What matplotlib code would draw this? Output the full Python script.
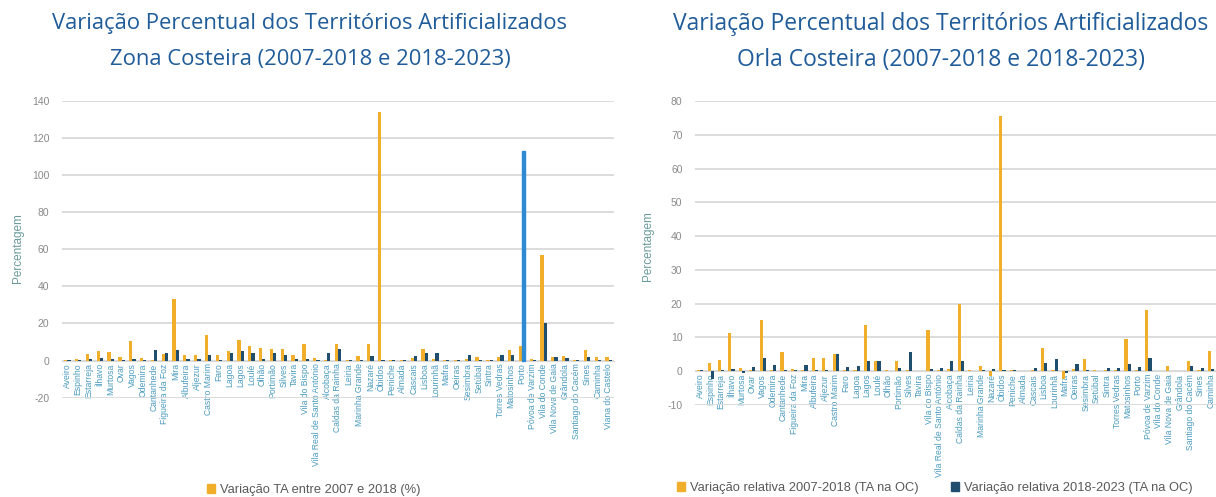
import matplotlib.pyplot as plt
import numpy as np
from matplotlib.patches import Patch

# Zona Costeira (51 municípios)
zona_municipios = [
    "Aveiro", "Espinho", "Estarreja", "Ílhavo", "Murtosa", "Ovar", "Vagos", "Odemira",
    "Cantanhede", "Figueira da Foz", "Mira", "Albufeira", "Aljezur", "Castro Marim",
    "Faro", "Lagoa", "Lagos", "Loulé", "Olhão", "Portimão", "Silves", "Tavira",
    "Vila do Bispo", "Vila Real de Santo António", "Alcobaça", "Caldas da Rainha",
    "Leiria", "Marinha Grande", "Nazaré", "Óbidos", "Peniche", "Almada", "Cascais",
    "Lisboa", "Lourinhã", "Mafra", "Oeiras", "Sesimbra", "Setúbal", "Sintra",
    "Torres Vedras", "Matosinhos", "Porto", "Póvoa de Varzim", "Vila do Conde",
    "Vila Nova de Gaia", "Grândola", "Santiago do Cacém", "Sines", "Caminha",
    "Viana do Castelo",
]
zona_2007_2018 = [
    0.3, 1.0, 3.6, 5.0, 4.5, 2.0, 10.5, 1.5, 0.5, 3.5,
    33.0, 3.0, 3.0, 14.0, 3.0, 5.0, 11.0, 8.0, 7.0, 6.0,
    6.0, 3.0, 9.0, 1.5, 0.5, 9.0, 0.2, 2.5, 9.0, 134.0,
    0.3, 0.3, 1.5, 6.0, 1.0, 0.5, 0.5, 1.0, 2.0, 0.3,
    2.0, 5.5, 8.0, 1.0, 57.0, 2.0, 2.5, 0.5, 5.5, 2.0,
    2.0,
]
zona_2018_2023 = [
    0.2, 0.3, 0.8, 1.5, 1.0, 0.5, 1.0, 0.3, 5.5, 4.0,
    5.5, 1.0, 1.0, 3.0, 0.5, 4.0, 5.0, 4.0, 1.0, 4.0,
    3.0, 1.0, 0.8, 0.3, 4.0, 6.5, 0.1, 0.5, 2.5, 0.5,
    0.1, 0.1, 2.5, 4.0, 4.0, 0.3, 0.3, 3.0, 0.5, 0.2,
    3.0, 3.0, 113.0, 0.3, 20.5, 2.0, 1.5, 0.2, 2.0, 0.5,
    0.5,
]
zona_destaque = 42  # barra com cor própria no gráfico original

# Orla Costeira (52 municípios)
orla_municipios = zona_municipios[:-1] + ["Esposende", "Viana do Castelo"]
orla_2007_2018 = [
    0.3, 2.5, 3.3, 11.2, 0.8, 0.2, 15.0, 0.3, 5.7, 0.5,
    0.3, 4.0, 4.0, 5.0, 0.2, 0.3, 13.5, 3.0, 0.2, 3.0,
    0.3, 0.1, 12.2, 0.3, 0.5, 20.0, 0.2, 1.5, -1.5, 75.5,
    0.2, 0.1, 0.3, 6.7, 0.3, -2.5, 0.5, 3.5, 0.2, 0.3,
    0.3, 9.5, 0.3, 18.0, 0.1, 1.5, 0.1, 3.0, 0.3, 6.0,
    2.0, 1.5,
]
orla_2018_2023 = [
    0.2, -2.5, 0.3, 0.5, -0.5, 1.3, 4.0, 1.8, 0.3, 0.3,
    1.8, 0.3, 0.3, 5.0, 1.2, 1.5, 3.0, 3.0, 0.1, 1.0,
    5.7, 0.1, 0.5, 1.0, 3.0, 3.0, 0.1, 0.2, 0.5, 0.3,
    0.2, 0.1, 1.0, 2.5, 3.5, -0.5, 2.0, 0.3, 0.1, 0.8,
    1.0, 2.0, 1.2, 3.8, 0.1, 0.1, 0.1, 1.5, 1.0, 0.5,
    0.5, 0.5,
]

LARANJA = "#F0AE2A"
AZUL_ESCURO = "#1F4E6E"
AZUL_CLARO = "#2F8AD4"
TITULO = "#1F5C99"
GRELHA = "#D9D9D9"
W, H = 1216, 497

plt.rcParams["font.family"] = ["Liberation Sans", "DejaVu Sans"]
plt.rcParams["axes.unicode_minus"] = False

fig = plt.figure(figsize=(W / 100, H / 100), dpi=100)


def painel(rect, nomes, s1, s2, ylim, yticks):
    ax = fig.add_axes(rect)
    x = np.arange(len(nomes))
    b1 = ax.bar(x - 0.15, s1, width=0.3, color=LARANJA, zorder=3)
    b2 = ax.bar(x + 0.15, s2, width=0.3, color=AZUL_ESCURO, zorder=3)
    ax.set_xlim(-0.5, len(nomes) - 0.5)
    ax.set_ylim(*ylim)
    ax.set_yticks(yticks)
    ax.grid(axis="y", color=GRELHA, linewidth=1.3, zorder=0)
    for lado in ["top", "right", "left"]:
        ax.spines[lado].set_visible(False)
    ax.spines["bottom"].set_position(("data", 0))
    ax.spines["bottom"].set_color(GRELHA)
    # só as categorias que cabem na figura recebem rótulo
    x0 = rect[0] * W
    passo = rect[2] * W / len(nomes)
    vis = [i for i in x if x0 + passo * (i + 0.5) + 3 < W]
    ax.set_xticks(vis)
    ax.set_xticklabels([nomes[i] for i in vis], rotation=90, fontsize=6.2,
                       color="#4A9BBF")
    ax.tick_params(axis="x", length=0, pad=2)
    ax.tick_params(axis="y", length=0, pad=9, labelsize=7.5, labelcolor="#8A8A8A")
    return ax, b1, b2


# painel esquerdo - Zona Costeira
axL, bL1, bL2 = painel([62 / W, (H - 397.7) / H, 552 / W, 297 / H],
                       zona_municipios, zona_2007_2018, zona_2018_2023,
                       (-20, 140), range(-20, 141, 20))
bL2[zona_destaque].set_color(AZUL_CLARO)

# painel direito - Orla Costeira (cortado à direita)
axR, bR1, bR2 = painel([695 / W, (H - 404.7) / H, 542 / W, 303.4 / H],
                       orla_municipios, orla_2007_2018, orla_2018_2023,
                       (-10, 80), range(-10, 81, 10))

fs_tit = 15.8
fig.text(310 / W, 1 - 24 / H, "Variação Percentual dos Territórios Artificializados",
         ha="center", va="center", fontsize=fs_tit, color=TITULO, family="Open Sans")
fig.text(310 / W, 1 - 60 / H, "Zona Costeira (2007-2018 e 2018-2023)",
         ha="center", va="center", fontsize=fs_tit, color=TITULO, family="Open Sans")
fig.text(941 / W, 1 - 24 / H, "Variação Percentual dos Territórios Artificializados",
         ha="center", va="center", fontsize=16.5, color=TITULO, family="Open Sans")
fig.text(941 / W, 1 - 60 / H, "Orla Costeira (2007-2018 e 2018-2023)",
         ha="center", va="center", fontsize=16.5, color=TITULO, family="Open Sans")

fig.text(18 / W, 1 - 248 / H, "Percentagem", rotation=90, ha="center", va="center",
         fontsize=8.5, color="#6A9A9A")
fig.text(648 / W, 1 - 246 / H, "Percentagem", rotation=90, ha="center", va="center",
         fontsize=8.5, color="#6A9A9A")

leg_kw = dict(frameon=False, fontsize=9.3, handlelength=0.6, handleheight=0.6,
              handletextpad=0.4, labelcolor="#595959")
fig.legend([Patch(color=LARANJA)], ["Variação TA entre 2007 e 2018 (%)"],
           loc="center", bbox_to_anchor=(314 / W, 1 - 490 / H), **leg_kw)
fig.legend([Patch(color=LARANJA), Patch(color=AZUL_ESCURO)],
           ["Variação relativa 2007-2018 (TA na OC)", "Variação relativa 2018-2023 (TA na OC)"],
           loc="center", bbox_to_anchor=(935 / W, 1 - 488 / H), ncol=2,
           columnspacing=2.5, **leg_kw)

fig.savefig("out.png", dpi=100)
